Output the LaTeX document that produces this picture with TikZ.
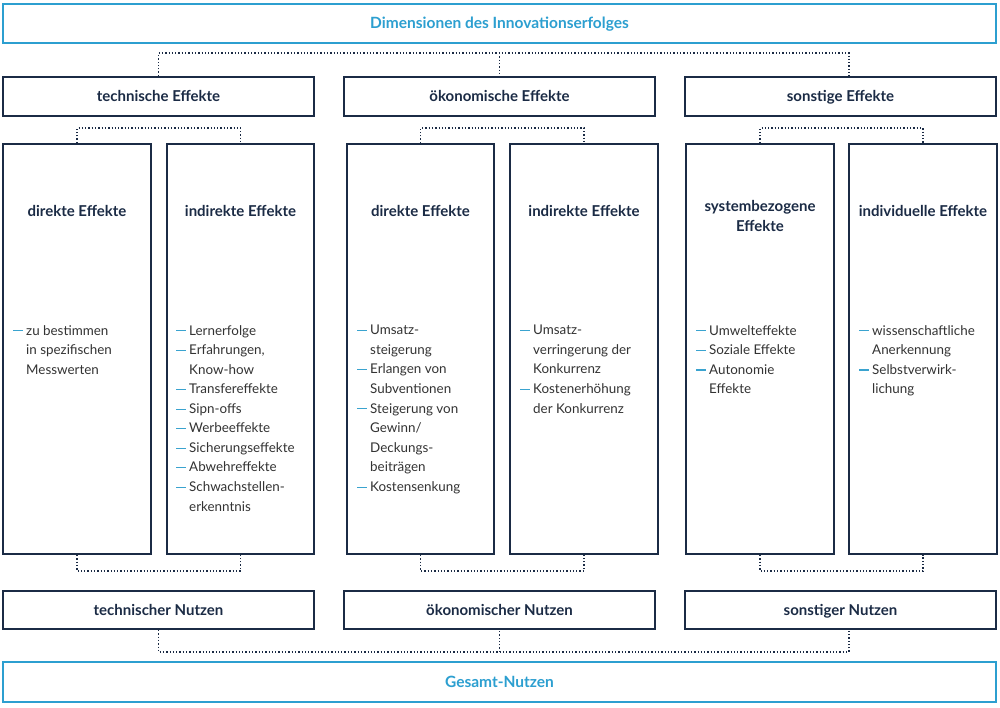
\documentclass[tikz,border=0pt]{standalone}
\usepackage{fontspec}
\setmainfont{Lato}
\definecolor{navy}{HTML}{1B2B45}
\definecolor{cyanb}{HTML}{2C9FD0}
\definecolor{bodyc}{HTML}{333333}
\definecolor{bulc}{HTML}{3AA3CF}
\newcommand\mybul{\makebox[13pt][l]{\textcolor{bulc}{\rule[3.6pt]{9.5pt}{1.1pt}}}}
\newcommand\myind{\hspace*{13pt}}
\tikzset{
  cbox/.style={draw=cyanb, line width=2pt, inner sep=0pt, text=cyanb, text height=12pt, text depth=2pt, font=\fontsize{15.5}{18}\selectfont\bfseries},
  dbox/.style={draw=navy, line width=2pt, inner sep=0pt, text=navy, text height=12pt, text depth=2pt, font=\fontsize{15}{18}\selectfont\bfseries},
  ibox/.style={draw=navy, line width=2pt, inner sep=0pt, minimum height=410pt},
  hd/.style={text=navy, font=\fontsize{15}{19.5}\selectfont\bfseries, align=center, inner sep=0pt},
  lst/.style={text=bodyc, font=\fontsize{13.4}{19.55}\selectfont, align=left, inner sep=0pt, anchor=north west},
  conn/.style={draw=navy, line width=1.3pt, dotted}
}
\begin{document}
\begin{tikzpicture}[x=1pt,y=-1pt]
\useasboundingbox[fill=white] (0,0) rectangle (1000,707);
% top and bottom boxes
\node[cbox, minimum width=993pt, minimum height=39pt] (top) at (499.5,23.5) {Dimensionen des Innovationserfolges};
\node[cbox, minimum width=993pt, minimum height=40pt] (ges) at (499.5,682) {Gesamt-Nutzen};
% row 2
\node[dbox, minimum width=311pt, minimum height=39pt] (tech) at (158.5,96.5) {technische Effekte};
\node[dbox, minimum width=311pt, minimum height=39pt] (oek) at (499.5,96.5) {ökonomische Effekte};
\node[dbox, minimum width=311pt, minimum height=39pt] (sonst) at (840.5,96.5) {sonstige Effekte};
% Nutzen row
\node[dbox, minimum width=311pt, minimum height=38pt] (ntech) at (158.5,610) {technischer Nutzen};
\node[dbox, minimum width=311pt, minimum height=38pt] (noek) at (499.5,610) {ökonomischer Nutzen};
\node[dbox, minimum width=311pt, minimum height=38pt] (nsonst) at (840.5,610) {sonstiger Nutzen};
% inner boxes
\node[ibox, minimum width=148pt] (a1) at (77,349) {};
\node[ibox, minimum width=147pt] (a2) at (240.5,349) {};
\node[ibox, minimum width=147pt] (b1) at (420.5,349) {};
\node[ibox, minimum width=148pt] (b2) at (584,349) {};
\node[ibox, minimum width=148pt] (c1) at (760,349) {};
\node[ibox, minimum width=148pt] (c2) at (923,349) {};
% headings
\node[hd] (ha1) at (77,211) {direkte Effekte};
\node[hd] (ha2) at (240.5,211) {indirekte Effekte};
\node[hd] (hb1) at (420.5,211) {direkte Effekte};
\node[hd] (hb2) at (584,211) {indirekte Effekte};
\node[hd] (hc1) at (760,216) {systembezogene\\Effekte};
\node[hd] (hc2) at (923,211) {individuelle Effekte};
% lists
\node[lst] (la1) at (13,325) {\mybul zu bestimmen\\ \myind in spezifischen\\ \myind Messwerten};
\node[lst] (la2) at (176,325) {\mybul Lernerfolge\\ \mybul Erfahrungen,\\ \myind Know-how\\ \mybul Transfereffekte\\ \mybul Sipn-offs\\ \mybul Werbeeffekte\\ \mybul Sicherungseffekte\\ \mybul Abwehreffekte\\ \mybul Schwachstellen-\\ \myind erkenntnis};
\node[lst] (lb1) at (357,325) {\mybul Umsatz-\\ \myind steigerung\\ \mybul Erlangen von\\ \myind Subventionen\\ \mybul Steigerung von\\ \myind Gewinn/\\ \myind Deckungs-\\ \myind beiträgen\\ \mybul Kostensenkung};
\node[lst] (lb2) at (520,325) {\mybul Umsatz-\\ \myind verringerung der\\ \myind Konkurrenz\\ \mybul Kostenerhöhung\\ \myind der Konkurrenz};
\node[lst] (lc1) at (696,325) {\mybul Umwelteffekte\\ \mybul Soziale Effekte\\ \mybul Autonomie\\ \myind Effekte};
\node[lst] (lc2) at (859,325) {\mybul wissenschaftliche\\ \myind Anerkennung\\ \mybul Selbstverwirk-\\ \myind lichung};
% bus coordinates
\coordinate (busT) at (0,53);
\coordinate (busB) at (0,652);
\coordinate (brT) at (0,128);
\coordinate (brB) at (0,571);
\coordinate (sdrop) at (849,0);
% top bus
\draw[conn] (tech.north) -- (tech.north |- busT) -- (sdrop |- busT) -- (sdrop |- sonst.north);
\draw[conn] (oek.north |- busT) -- (oek.north);
% bottom bus
\draw[conn] (ntech.south) -- (ntech.south |- busB) -- (sdrop |- busB) -- (sdrop |- nsonst.south);
\draw[conn] (noek.south |- busB) -- (noek.south);
% inner brackets top
\draw[conn] (a1.north) -- (a1.north |- brT) -- (a2.north |- brT) -- (a2.north);
\draw[conn] (b1.north) -- (b1.north |- brT) -- (b2.north |- brT) -- (b2.north);
\draw[conn] (c1.north) -- (c1.north |- brT) -- (c2.north |- brT) -- (c2.north);
% inner brackets bottom
\draw[conn] (a1.south) -- (a1.south |- brB) -- (a2.south |- brB) -- (a2.south);
\draw[conn] (b1.south) -- (b1.south |- brB) -- (b2.south |- brB) -- (b2.south);
\draw[conn] (c1.south) -- (c1.south |- brB) -- (c2.south |- brB) -- (c2.south);
\end{tikzpicture}
\end{document}
